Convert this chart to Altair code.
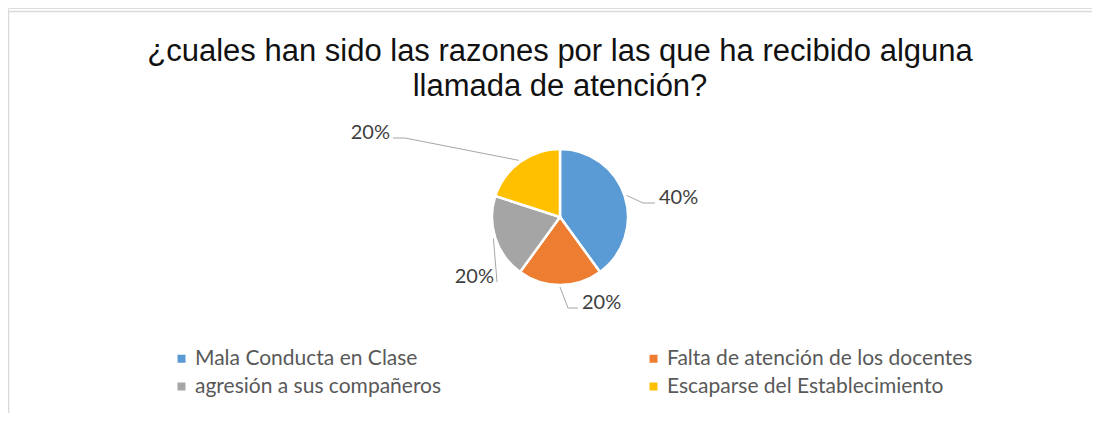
import math
import altair as alt
import pandas as pd

# ---- data -------------------------------------------------------------
categories = [
    "Mala Conducta en Clase",
    "Falta de atención de los docentes",
    "agresión a sus compañeros",
    "Escaparse del Establecimiento",
]
values = [40, 20, 20, 20]
pct_labels = ["40%", "20%", "20%", "20%"]
colors = ["#5B9BD5", "#ED7D31", "#A5A5A5", "#FFC000"]
title_lines = [
    "¿cuales han sido las razones por las que ha recibido alguna",
    "llamada de atención?",
]

# ---- layout (style, not data) ----------------------------------------
W, H = 1084, 405
CX, CY, R = 552, 209, 68
# leader-line elbow / end offsets from the pie centre and label side
LEADER = {
    "Mala Conducta en Clase": ((83, -14), (95, -14), "left"),
    "Falta de atención de los docentes": ((8, 91), (18, 91), "left"),
    "agresión a sus compañeros": ((-63, 65), (-63, 65), "right"),
    "Escaparse del Establecimiento": ((-155, -79), (-167, -79), "right"),
}

pie_df = pd.DataFrame({"category": categories, "value": values,
                       "label": pct_labels, "idx": range(len(categories))})

total = sum(values)
line_rows, lab_rows = [], []
cum = 0.0
for cat, v, lab in zip(categories, values, pct_labels):
    mid = (cum + v / 2) / total * 2 * math.pi
    cum += v
    ex, ey = CX + (R + 2) * math.sin(mid), CY - (R + 2) * math.cos(mid)
    (bx, by), (fx, fy), side = LEADER[cat]
    pts = [(ex, ey), (CX + bx, CY + by), (CX + fx, CY + fy)]
    for k, (px, py) in enumerate(pts):
        line_rows.append({"category": cat, "k": k, "px": px, "py": py})
    tx = CX + fx + (4 if side == "left" else -3)
    lab_rows.append({"category": cat, "label": lab, "side": side,
                     "tx": tx, "ty": CY + fy + 1})
line_df = pd.DataFrame(line_rows)
lab_df = pd.DataFrame(lab_rows)

color_scale = alt.Scale(domain=categories, range=colors)

pie = alt.Chart(pie_df).mark_arc(outerRadius=R, stroke="white", strokeWidth=2.5).encode(
    theta=alt.Theta("value:Q", stack=True),
    order=alt.Order("idx:Q"),
    color=alt.Color(
        "category:N", scale=color_scale, sort=categories,
        legend=alt.Legend(
            title=None, orient="none", legendX=163, legendY=340,
            direction="horizontal", columns=2, columnPadding=201, rowPadding=6,
            symbolType="square", symbolSize=64, symbolStrokeWidth=0,
            labelFont="Lato", labelFontSize=21, labelColor="#595959",
            labelOffset=3, labelLimit=0, padding=0,
        ),
    ),
    x=alt.value(CX),
    y=alt.value(CY),
)

leaders = alt.Chart(line_df).mark_line(color="#A6A6A6", strokeWidth=1).encode(
    x=alt.X("px:Q", scale=None),
    y=alt.Y("py:Q", scale=None),
    detail="category:N",
    order="k:Q",
)

lab_left = alt.Chart(lab_df).transform_filter(alt.datum.side == "left").mark_text(
    align="left", baseline="alphabetic", font="Lato", fontSize=20, color="#404040"
).encode(x=alt.X("tx:Q", scale=None), y=alt.Y("ty:Q", scale=None), text="label:N")

lab_right = alt.Chart(lab_df).transform_filter(alt.datum.side == "right").mark_text(
    align="right", baseline="alphabetic", font="Lato", fontSize=20, color="#404040"
).encode(x=alt.X("tx:Q", scale=None), y=alt.Y("ty:Q", scale=None), text="label:N")

frame_df = pd.DataFrame({"a": [0]})
frame_left = alt.Chart(frame_df).mark_rule(color="#D9D9D9", strokeWidth=1.5).encode(
    x=alt.value(0.5), y=alt.value(3.5), y2=alt.value(H))
frame_top = alt.Chart(frame_df).mark_rule(color="#D9D9D9", strokeWidth=1.5).encode(
    x=alt.value(0), x2=alt.value(W), y=alt.value(3.5))

chart = alt.layer(frame_left, frame_top, pie, leaders, lab_left, lab_right).properties(
    width=W, height=H,
    autosize=alt.AutoSizeParams(type="none"),
    padding={"left": 0, "top": 0, "right": 0, "bottom": 0},
    title=alt.TitleParams(
        text=title_lines, font="Liberation Sans", fontSize=31, fontWeight="normal",
        color="#111111", anchor="middle", baseline="alphabetic", offset=-119,
        lineHeight=35, dx=10,
    ),
).configure_view(stroke=None).configure(background="white")

chart.save("out.html", embed_options={"renderer": "svg", "actions": False})
